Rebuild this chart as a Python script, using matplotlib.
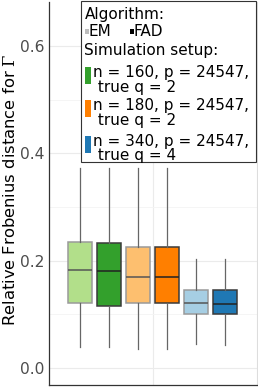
import matplotlib
matplotlib.use("Agg")
import matplotlib.pyplot as plt
from matplotlib.patches import Rectangle

plt.rcParams['font.family'] = ['DejaVu Sans']
plt.rcParams['mathtext.fontset'] = 'dejavuserif'

# ---- data (summary statistics) ----
setups = ["n = 160, p = 24547,\n true q = 2",
          "n = 180, p = 24547,\n true q = 2",
          "n = 340, p = 24547,\n true q = 4"]
algorithms = ["EM", "FAD"]
box_labels = ["160 EM", "160 FAD", "180 EM", "180 FAD", "340 EM", "340 FAD"]
whislo = [0.040, 0.040, 0.035, 0.035, 0.044, 0.042]
q1     = [0.121, 0.116, 0.122, 0.121, 0.100, 0.100]
med    = [0.182, 0.181, 0.170, 0.169, 0.121, 0.120]
q3     = [0.234, 0.232, 0.225, 0.225, 0.146, 0.145]
whishi = [0.372, 0.373, 0.373, 0.372, 0.203, 0.203]
fill_colors = ["#b2df8a", "#33a02c", "#fdbf6f", "#ff7f00", "#a6cee3", "#1f78b4"]
setup_colors = ["#33a02c", "#ff7f00", "#1f78b4"]
alg_colors = ["#bdbdbd", "#000000"]
yticks = [0.0, 0.2, 0.4, 0.6]
yminor = [0.1, 0.3, 0.5]

W, H = 258, 387
fig = plt.figure(figsize=(W / 100, H / 100), dpi=100)
ax = fig.add_axes([49 / W, (H - 385) / H, (257 - 49) / W, (385 - 2) / H])

stats = []
for i in range(len(med)):
    stats.append(dict(label=box_labels[i], whislo=whislo[i], q1=q1[i], med=med[i],
                      q3=q3[i], whishi=whishi[i], fliers=[]))
positions = list(range(len(stats)))
bp = ax.bxp(stats, positions=positions, widths=0.86, patch_artist=True,
            showcaps=False, showfliers=False, zorder=3)
for i, box in enumerate(bp['boxes']):
    em = (i % 2 == 0)
    box.set_facecolor(fill_colors[i])
    box.set_edgecolor("#9a9a9a" if em else "#3a3a3a")
    box.set_linewidth(1.1)
for i, m in enumerate(bp['medians']):
    em = (i % 2 == 0)
    m.set_color("#555555" if em else "#222222")
    m.set_linewidth(1.1)
for w in bp['whiskers']:
    w.set_color("#666666")
    w.set_linewidth(0.9)

ax.set_xlim((49 - 80) / 29, (257 - 80) / 29)
ax.set_ylim(-0.0317, 0.682)
ax.set_yticks(yticks)
ax.set_yticklabels([f"{v:.1f}" for v in yticks])
ax.set_yticks(yminor, minor=True)
ax.set_xticks([2.5])
ax.set_xticklabels([""])
ax.tick_params(axis='both', which='both', length=0)
ax.tick_params(axis='y', labelsize=11.2, labelcolor="#4d4d4d", pad=3)
ax.grid(True, which='major', color="#ebebeb", linewidth=0.8, zorder=0)
ax.grid(True, which='minor', axis='y', color="#f4f4f4", linewidth=0.6, zorder=0)
ax.set_axisbelow(True)
ax.spines["top"].set_visible(False)
ax.spines["right"].set_color("#dddddd")
ax.spines["right"].set_linewidth(0.8)
ax.spines["left"].set_color("#333333")
ax.spines["bottom"].set_color("#333333")
ax.spines["left"].set_linewidth(0.9)
ax.spines["bottom"].set_linewidth(0.9)


def fx(x):
    return x / W


def fy(y):
    return 1 - y / H


fig.text(fx(10), fy(190), r"Relative Frobenius distance for $\Gamma$", fontsize=11.8,
         rotation=90, ha="center", va="center")

# ---- legend (drawn manually) ----
fig.add_artist(Rectangle((fx(81), fy(162)), (256 - 81) / W, (162 - 0.5) / H,
                         transform=fig.transFigure, facecolor="white",
                         edgecolor="#333333", linewidth=0.8, zorder=5))
fs = 11
fig.text(fx(84.5), fy(18.5), "Algorithm:", fontsize=fs, va="baseline", zorder=6)
alg_x = [85.3, 130.3]
for xk, name, c in zip(alg_x, algorithms, alg_colors):
    fig.add_artist(Rectangle((fx(xk), fy(34)), 3.7 / W, 5.5 / H, transform=fig.transFigure,
                             facecolor=c, edgecolor="none", zorder=6))
    fig.text(fx(xk + 3.0), fy(36.3), name, fontsize=fs, va="baseline", zorder=6)
fig.text(fx(84.5), fy(55), "Simulation setup:", fontsize=fs, va="baseline", zorder=6)
entry_base = [77.3, 110.3, 146.0]
for base, lab, c in zip(entry_base, setups, setup_colors):
    fig.add_artist(Rectangle((fx(85.3), fy(base + 6.5)), 5.3 / W, 17 / H,
                             transform=fig.transFigure, facecolor=c, edgecolor="none", zorder=6))
    l1, l2 = lab.split("\n")
    fig.text(fx(93.0), fy(base), l1, fontsize=fs, va="baseline", zorder=6)
    fig.text(fx(93.0), fy(base + 14.3), l2, fontsize=fs, va="baseline", zorder=6)

fig.savefig("out.png", dpi=100)
